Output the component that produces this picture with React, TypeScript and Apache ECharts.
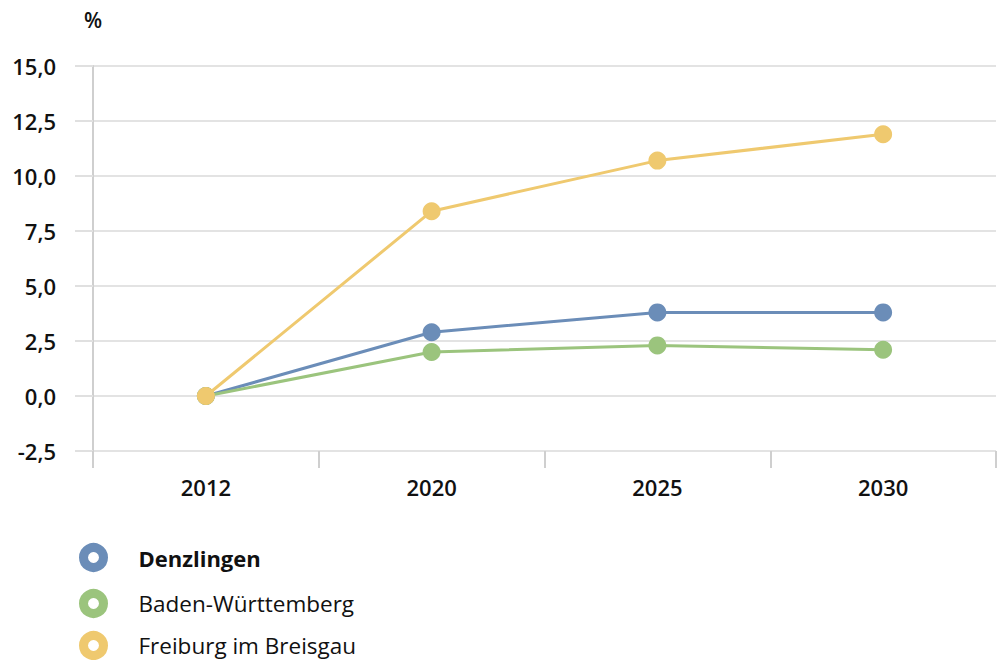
import React, { useEffect, useRef } from "react";
import * as echarts from "echarts";

const categories = ["2012", "2020", "2025", "2030"];
const denzlingen = [0, 2.9, 3.8, 3.8];
const badenWuerttemberg = [0, 2.0, 2.3, 2.1];
const freiburg = [0, 8.4, 10.7, 11.9];
const seriesNames = ["Denzlingen", "Baden-Württemberg", "Freiburg im Breisgau"];
const colors = ["#6b8db8", "#9bc47d", "#efc96f"];

const FONT = "'Open Sans', 'DejaVu Sans', sans-serif";
const legendTops = [543, 589, 631];

export default function App() {
  const ref = useRef<HTMLDivElement>(null);
  useEffect(() => {
    if (!ref.current) return;
    const chart = echarts.init(ref.current, undefined, { renderer: "svg" });
    const datas = [denzlingen, badenWuerttemberg, freiburg];
    chart.setOption({
      animation: false,
      backgroundColor: "#fff",
      textStyle: { fontFamily: FONT },
      grid: { left: 93, right: 9, top: 66, bottom: 209, containLabel: false },
      legend: seriesNames.map((n, i) => ({
        orient: "vertical",
        left: 79,
        top: legendTops[i],
        padding: 0,
        itemWidth: 20,
        itemHeight: 20,
        icon: "circle",
        data: [
          {
            name: n,
            itemStyle: { color: "#fff", borderColor: colors[i], borderWidth: 9 },
          },
        ],
        formatter: (name: string) =>
          name === "Denzlingen" ? "{b|" + name + "}" : "{n|" + name + "}",
        textStyle: {
          rich: {
            b: { fontFamily: FONT, fontSize: 22, lineHeight: 26, fontWeight: "bold", color: "#111", padding: [0, 0, 0, 30] },
            n: { fontFamily: FONT, fontSize: 22.5, lineHeight: 26, color: "#111", padding: [0, 0, 0, 30] },
          },
        },
      })),
      xAxis: {
        type: "category",
        data: categories,
        boundaryGap: true,
        axisLine: { show: false, onZero: false },
        axisTick: { show: true, length: 17, lineStyle: { color: "#cfcfcf", width: 2 } },
        axisLabel: { margin: 25, fontSize: 22, fontWeight: 600, color: "#111", fontFamily: FONT },
      },
      yAxis: {
        type: "value",
        min: -2.5,
        max: 15,
        interval: 2.5,
        name: "%",
        nameLocation: "end",
        nameGap: 36,
        nameTextStyle: { fontSize: 21, fontWeight: 600, color: "#111", fontFamily: FONT, align: "center" },
        axisLine: { show: true, lineStyle: { color: "#cfcfcf", width: 2 } },
        axisTick: { show: true, length: 18, lineStyle: { color: "#e0e0e0", width: 2 } },
        splitLine: { show: true, lineStyle: { color: "#e3e3e3", width: 2 } },
        axisLabel: {
          margin: 37,
          fontSize: 22,
          fontWeight: 600,
          color: "#111",
          fontFamily: FONT,
          formatter: (v: number) => v.toFixed(1).replace(".", ","),
        },
      },
      graphic: [
        {
          type: "line",
          shape: { x1: 93, y1: 451, x2: 93, y2: 467 },
          style: { stroke: "#cfcfcf", lineWidth: 2 },
        },
      ],
      series: seriesNames.map((n, i) => ({
        name: n,
        type: "line",
        data: datas[i],
        color: colors[i],
        symbol: "circle",
        symbolSize: 18,
        lineStyle: { width: 3, color: colors[i] },
        itemStyle: { color: colors[i] },
        z: 2 + i,
      })),
    });
    return () => chart.dispose();
  }, []);
  return <div ref={ref} style={{ width: 1005, height: 660, position: "absolute", left: 0, top: 0 }} />;
}
